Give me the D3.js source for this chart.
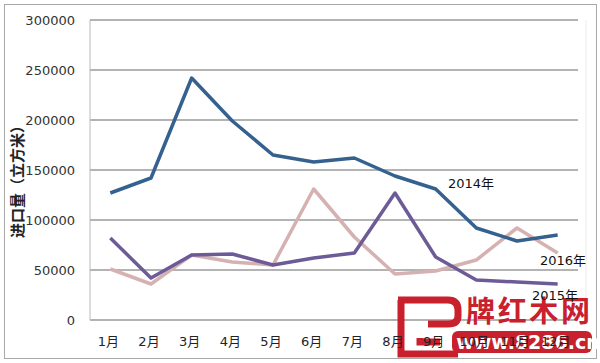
<!DOCTYPE html>
<html>
<head>
<meta charset="utf-8">
<script src="https://cdn.jsdelivr.net/npm/d3@7"></script>
<style>
  body { margin: 0; background: #fff; }
  svg text { font-family: "DejaVu Sans", "Noto Sans CJK SC", sans-serif; }
</style>
</head>
<body>
<svg id="chart" width="600" height="363"></svg>
<script>
// months on the x axis
const months = ['1月', '2月', '3月', '4月', '5月', '6月', '7月', '8月', '9月', '10月', '11月', '12月'];
// import volume, 万立方米
const y2014 = [127000, 142000, 242000, 199000, 165000, 158000, 162000, 144000, 131000, 92000, 79000, 85000];
const y2015 = [82000, 42000, 65000, 66000, 55000, 62000, 67000, 127000, 63000, 40000, 38000, 36000];
const y2016 = [51000, 36000, 65000, 58000, 55000, 131000, 83000, 46000, 49000, 60000, 92000, 67000];
const yTicks = [0, 50000, 100000, 150000, 200000, 250000, 300000];
const seriesNames = ['2014年', '2015年', '2016年'];

const svg = d3.select('#chart');
const plot = { left: 90, right: 578, top: 20, bottom: 320 };

// outer frame
svg.append('rect')
  .attr('x', 4.5).attr('y', 4.5).attr('width', 592).attr('height', 354)
  .attr('fill', 'none').attr('stroke', '#a8a8a8').attr('stroke-width', 1);

const x = d3.scaleBand().domain(months).range([plot.left, plot.right]);
const y = d3.scaleLinear().domain([0, 300000]).range([plot.bottom, plot.top]);

// grid lines
svg.append('g')
  .selectAll('line')
  .data(yTicks)
  .join('line')
  .attr('x1', plot.left).attr('x2', plot.right)
  .attr('y1', d => y(d)).attr('y2', d => y(d))
  .attr('stroke', '#9a9a9a').attr('stroke-width', 1.5);

// left axis line
svg.append('line')
  .attr('x1', plot.left).attr('x2', plot.left)
  .attr('y1', plot.top).attr('y2', plot.bottom)
  .attr('stroke', '#b8b8b8').attr('stroke-width', 1);
svg.append('line')
  .attr('x1', 586).attr('x2', 586)
  .attr('y1', plot.top).attr('y2', plot.bottom)
  .attr('stroke', '#ececec').attr('stroke-width', 1);

// y tick labels
const yAxis = d3.axisLeft(y).tickValues(yTicks).tickSize(0).tickPadding(15).tickFormat(d3.format('d'));
const gy = svg.append('g').attr('transform', `translate(${plot.left},0)`).call(yAxis);
gy.select('.domain').remove();
gy.selectAll('text').attr('font-size', 13).attr('fill', '#333')
  .attr('font-family', '"DejaVu Sans", sans-serif');

// y axis title
svg.append('text')
  .attr('transform', 'translate(23,178) rotate(-90)')
  .attr('text-anchor', 'middle')
  .attr('font-size', 15).attr('font-weight', 'bold').attr('fill', '#222')
  .attr('font-family', '"Noto Sans CJK SC", sans-serif')
  .text('进口量（立方米）');

// watermark logo (drawn below the chart text)
const wm = svg.append('g').attr('fill', '#c8202d');
wm.append('path')
  .attr('fill', 'none').attr('stroke', '#c8202d').attr('stroke-width', 7)
  .attr('d', 'M398,300 H448 Q458,300 458,310 V316 Q458,324 448,324 H428 M401,300 V354 H458 M420,338 V342 H440');
wm.append('rect').attr('x', 452).attr('y', 331).attr('width', 140).attr('height', 22).attr('rx', 6);
wm.append('text')
  .attr('x', 528).attr('y', 322).attr('text-anchor', 'middle')
  .attr('font-size', 29).attr('font-weight', 'bold')
  .attr('font-family', '"Noto Sans CJK SC", sans-serif')
  .attr('textLength', 124)
  .text('牌红木网');
wm.append('text')
  .attr('x', 528).attr('y', 349).attr('text-anchor', 'middle')
  .attr('font-size', 19).attr('font-weight', 'bold').attr('fill', '#fff')
  .attr('font-family', '"Liberation Serif", serif')
  .text('www.8286.cn');

// x tick labels
svg.append('g')
  .selectAll('text')
  .data(months)
  .join('text')
  .attr('x', d => x(d) + x.bandwidth() / 2 - 2)
  .attr('y', 346)
  .attr('text-anchor', 'middle')
  .attr('font-size', 13).attr('fill', '#222')
  .attr('font-family', '"DejaVu Sans", "Noto Sans CJK SC", sans-serif')
  .text(d => d);

// lines
const line = d3.line()
  .x((d, i) => x(months[i]) + x.bandwidth() / 2)
  .y(d => y(d));
const series = [
  { name: seriesNames[0], values: y2014, color: '#35618f' },
  { name: seriesNames[1], values: y2015, color: '#6d5b97' },
  { name: seriesNames[2], values: y2016, color: '#d5b2b1' },
];
svg.append('g')
  .selectAll('path')
  .data([series[2], series[1], series[0]])
  .join('path')
  .attr('fill', 'none')
  .attr('stroke', d => d.color)
  .attr('stroke-width', 3.5)
  .attr('stroke-linejoin', 'round')
  .attr('d', d => line(d.values));

// series labels
const labelPos = [
  { name: seriesNames[0], x: 448, y: 188 },
  { name: seriesNames[1], x: 532, y: 300 },
  { name: seriesNames[2], x: 540, y: 265 },
];
svg.append('g')
  .selectAll('text')
  .data(labelPos)
  .join('text')
  .attr('x', d => d.x).attr('y', d => d.y)
  .attr('font-size', 13).attr('fill', '#111')
  .attr('font-family', '"DejaVu Sans", "Noto Sans CJK SC", sans-serif')
  .text(d => d.name);
</script>
</body>
</html>
